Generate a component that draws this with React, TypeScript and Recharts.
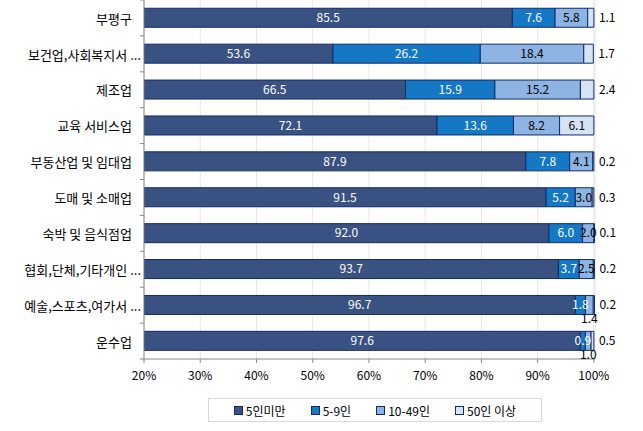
import React from 'react';
import { Bar, BarChart, CartesianGrid, LabelList, XAxis, YAxis } from 'recharts';

const categories = [
  '부평구',
  '보건업,사회복지서 ...',
  '제조업',
  '교육 서비스업',
  '부동산업 및 임대업',
  '도매 및 소매업',
  '숙박 및 음식점업',
  '협회,단체,기타개인 ...',
  '예술,스포츠,여가서 ...',
  '운수업',
];
const under5 = [85.5, 53.6, 66.5, 72.1, 87.9, 91.5, 92.0, 93.7, 96.7, 97.6];
const from5to9 = [7.6, 26.2, 15.9, 13.6, 7.8, 5.2, 6.0, 3.7, 1.8, 0.9];
const from10to49 = [5.8, 18.4, 15.2, 8.2, 4.1, 3.0, 2.0, 2.5, 1.4, 1.0];
const over50 = [1.1, 1.7, 2.4, 6.1, 0.2, 0.3, 0.1, 0.2, 0.2, 0.5];
const seriesNames = ['5인미만', '5-9인', '10-49인', '50인 이상'];
const xTicks = [20, 30, 40, 50, 60, 70, 80, 90, 100];

const colors = ['#3A5282', '#1478C4', '#8EB4E3', '#D6E3F5'];
const edge = '#0F2B6B';
const font = "'Noto Sans CJK KR', 'Malgun Gothic', sans-serif";

const W = 643;
const H = 431;
const AXIS_W = 144;
// domain runs a hair past 100 so rows summing to 100.1 keep their last segment
const MARGIN = { top: 0, right: 48, bottom: 42, left: 0 };
const X_AXIS_H = 30;
const plotH = H - MARGIN.top - MARGIN.bottom - X_AXIS_H;
const band = plotH / categories.length;

const data = categories.map((name, i) => ({
  name,
  a: under5[i],
  b: from5to9[i],
  c: from10to49[i],
  d: over50[i],
}));

const box = (p: any) => {
  const v = p.viewBox ?? p;
  return { x: v.x ?? p.x, y: v.y ?? p.y, w: v.width ?? p.width, h: v.height ?? p.height };
};

const fmt = (v: any) => Number(v).toFixed(1);

// first segment label sits in the middle of the visible (clipped) part
const FirstLabel = (p: any) => {
  const { x, y, w, h } = box(p);
  const left = Math.max(x, MARGIN.left + AXIS_W);
  return (
    <text x={(left + x + w) / 2} y={y + h / 2} dy="0.36em" textAnchor="middle" fill="#fff" fontSize={12} fontFamily={font}>
      {fmt(p.value)}
    </text>
  );
};

const MidLabel = (color: string, dropIfNarrow: boolean) => (p: any) => {
  const { x, y, w, h } = box(p);
  const below = dropIfNarrow && w < 10;
  return (
    <text x={x + w / 2} y={y + h / 2 + (below ? 14 : 0)} dy="0.36em" textAnchor="middle" fill={color} fontSize={12} fontFamily={font}>
      {fmt(p.value)}
    </text>
  );
};

const EndLabel = (p: any) => {
  const { x, y, w, h } = box(p);
  const inside = w > 20;
  return (
    <text
      x={inside ? x + w / 2 : x + w + 5}
      y={y + h / 2}
      dy="0.36em"
      textAnchor={inside ? 'middle' : 'start'}
      fill="#000"
      fontSize={12}
      fontFamily={font}
    >
      {fmt(p.value)}
    </text>
  );
};

const CatTick = (p: any) => {
  const { y, payload, index } = p;
  const label = String(payload.value);
  const ax = MARGIN.left + AXIS_W;
  const tx = label.endsWith('...') ? ax - 3 : ax - 12;
  return (
    <g>
      <line x1={ax - 4} x2={ax} y1={y - band / 2} y2={y - band / 2} stroke="#868686" />
      {index === categories.length - 1 && (
        <line x1={ax - 4} x2={ax} y1={y + band / 2} y2={y + band / 2} stroke="#868686" />
      )}
      <text x={tx} y={y + 1} dy="0.36em" textAnchor="end" fill="#000" fontSize={13} fontFamily={font}>
        {label}
      </text>
    </g>
  );
};

const Legend = () => (
  <div
    style={{
      position: 'absolute',
      left: 208,
      top: 398,
      width: 332,
      height: 22,
      border: '1px solid #D9D9D9',
      display: 'flex',
      alignItems: 'center',
      justifyContent: 'center',
      gap: 25,
      fontFamily: font,
      fontSize: 12,
      color: '#000',
    }}
  >
    {seriesNames.map((n, i) => (
      <div key={n} style={{ display: 'flex', alignItems: 'center', gap: 3 }}>
        <span style={{ width: 7, height: 7, background: colors[i], border: `1px solid ${edge}` }} />
        <span>{n}</span>
      </div>
    ))}
  </div>
);

export default function App() {
  return (
    <div style={{ position: 'absolute', left: 0, top: 0, width: W, height: H, background: '#fff' }}>
      <BarChart layout="vertical" width={W} height={H} data={data} margin={MARGIN} barCategoryGap="23%">
        <CartesianGrid horizontal={false} stroke="#E6E6E6" />
        <XAxis
          type="number"
          domain={[20, 100.2]}
          ticks={xTicks}
          allowDataOverflow
          tickFormatter={(v) => `${v}%`}
          axisLine={{ stroke: '#868686' }}
          tickLine={{ stroke: '#868686' }}
          tickSize={4}
          tickMargin={8}
          height={X_AXIS_H}
          tick={{ fontSize: 12, fill: '#000', fontFamily: font }}
        />
        <YAxis
          type="category"
          dataKey="name"
          width={AXIS_W}
          interval={0}
          axisLine={{ stroke: '#868686' }}
          tickLine={false}
          tick={<CatTick />}
        />
        <Bar dataKey="a" stackId="s" fill={colors[0]} stroke={edge} isAnimationActive={false}>
          <LabelList dataKey="a" content={FirstLabel} />
        </Bar>
        <Bar dataKey="b" stackId="s" fill={colors[1]} stroke={edge} isAnimationActive={false}>
          <LabelList dataKey="b" content={MidLabel('#fff', false)} />
        </Bar>
        <Bar dataKey="c" stackId="s" fill={colors[2]} stroke={edge} isAnimationActive={false}>
          <LabelList dataKey="c" content={MidLabel('#000', true)} />
        </Bar>
        <Bar dataKey="d" stackId="s" fill={colors[3]} stroke={edge} isAnimationActive={false}>
          <LabelList dataKey="d" content={EndLabel} />
        </Bar>
      </BarChart>
      <Legend />
    </div>
  );
}
